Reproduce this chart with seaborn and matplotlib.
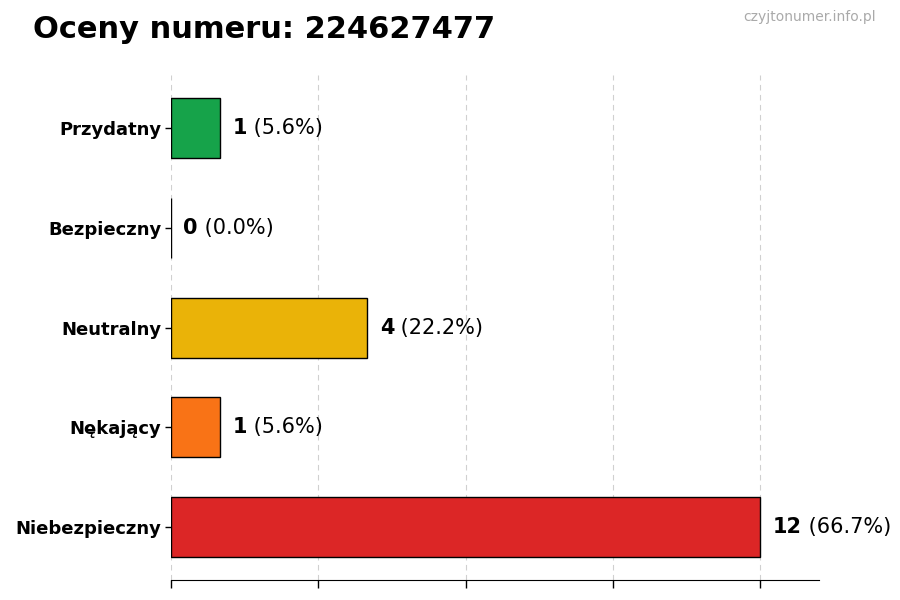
import matplotlib
matplotlib.use("Agg")
import seaborn as sns
import pandas as pd
import matplotlib.pyplot as plt

categories = ["Przydatny", "Bezpieczny", "Neutralny", "Nękający", "Niebezpieczny"]
counts = [1, 0, 4, 1, 12]
percents = [5.6, 0.0, 22.2, 5.6, 66.7]
colors = ["#16a34a", "#15803d", "#eab308", "#f97316", "#dc2626"]

df = pd.DataFrame({"cat": categories, "count": counts})

sns.set_style("white", {"xtick.bottom": True, "ytick.left": True,
                        "text.color": "black", "axes.labelcolor": "black",
                        "xtick.color": "black", "ytick.color": "black"})
plt.rcParams["font.family"] = ["DejaVu Sans"]

fig = plt.figure(figsize=(9, 6), dpi=100)
ax = fig.add_axes([0.19, 0.033, 0.72, 0.842])

sns.barplot(data=df, x="count", y="cat", hue="cat", palette=colors, orient="h",
            width=0.6, edgecolor="black", linewidth=1, saturation=1,
            legend=False, ax=ax)

ax.set_xlim(0, max(counts) * 1.1)
ax.set_ylim(len(categories) - 1 + 0.53, -0.53)
ax.set_xticks([0, 3, 6, 9, 12])
ax.set_xticklabels([])
ax.tick_params(axis="x", length=6, width=1, color="black")
ax.tick_params(axis="y", length=4, width=1, color="black", pad=3, labelcolor="black")
ax.xaxis.grid(True, linestyle=(0, (5, 4)), color="#d0d0d0", linewidth=0.8)
ax.set_axisbelow(True)
ax.set_xlabel("")
ax.set_ylabel("")
for lbl in ax.get_yticklabels():
    lbl.set_fontweight("bold")
    lbl.set_fontsize(13)

for s in ["top", "right", "left"]:
    ax.spines[s].set_visible(False)
ax.spines["bottom"].set_color("black")

for i, (c, p) in enumerate(zip(counts, percents)):
    t = ax.annotate(f"{c}", xy=(c, i), xytext=(9, 0), textcoords="offset points",
                    va="center", ha="left", fontsize=15, fontweight="bold",
                    color="black")
    ax.annotate(f" ({p:.1f}%)", xycoords=t, xy=(1, 0.5), va="center", ha="left",
                fontsize=15, color="black")

fig.text(0.037, 0.95, "Oceny numeru: 224627477", fontsize=22, fontweight="bold",
         ha="left", va="center", color="black")
fig.text(0.973, 0.972, "czyjtonumer.info.pl", fontsize=10, color="#aaaaaa",
         ha="right", va="center")

fig.savefig("out.png", dpi=100)
